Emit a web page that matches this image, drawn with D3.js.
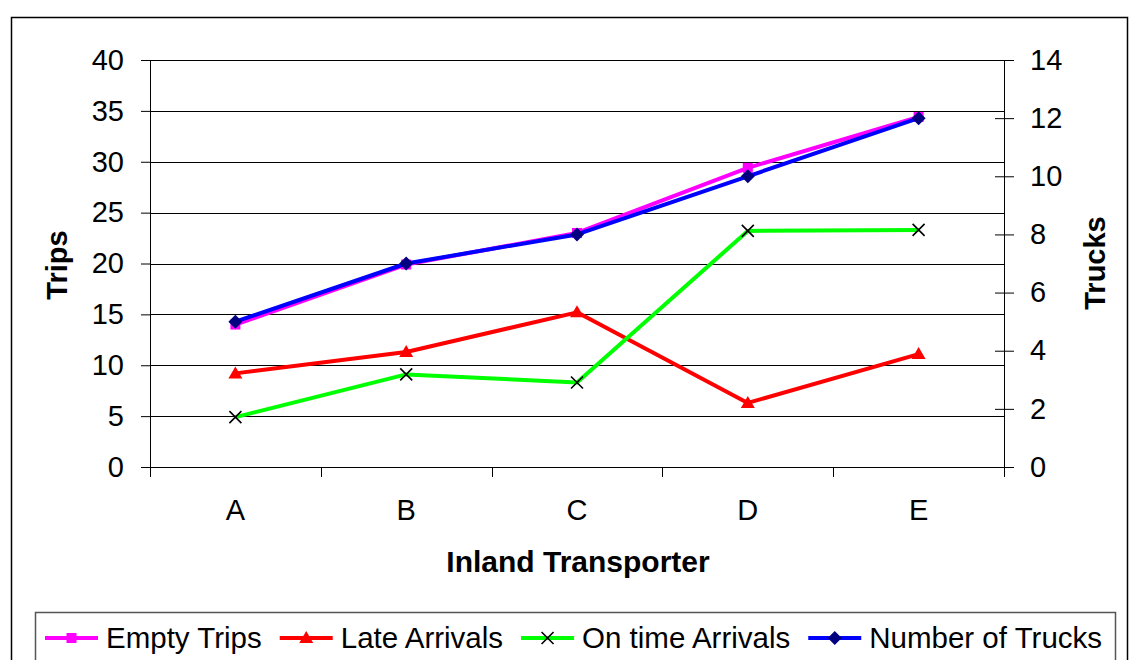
<!DOCTYPE html>
<html><head><meta charset="utf-8">
<script src="https://cdn.jsdelivr.net/npm/d3@7"></script>
<style>
html,body{margin:0;padding:0;background:#fff;}
svg text{font-family:"Liberation Sans",Arial,sans-serif;fill:#000;}
</style></head>
<body>
<svg id="chart" width="1129" height="660"></svg>
<script>
const categories = ["A","B","C","D","E"];
const emptyTrips = [14, 19.9, 23, 29.4, 34.4];
const lateArrivals = [9.2, 11.3, 15.2, 6.3, 11.1];
const onTimeArrivals = [4.9, 9.1, 8.3, 23.2, 23.3];
const numberOfTrucks = [5, 7, 8, 10, 12];
const leftTicks = [0,5,10,15,20,25,30,35,40];
const rightTicks = [0,2,4,6,8,10,12,14];
const seriesNames = ["Empty Trips","Late Arrivals","On time Arrivals","Number of Trucks"];

const svg = d3.select("#chart");
const plot = {left:150, right:1004, top:60, bottom:467};
const FS = 29;

// outer border
svg.append("rect").attr("x",11.5).attr("y",17.5).attr("width",1116).attr("height",700)
  .attr("fill","none").attr("stroke","#000").attr("stroke-width",1.5);

const x = d3.scaleBand().domain(categories).range([plot.left, plot.right]);
const yL = d3.scaleLinear().domain([0,40]).range([plot.bottom, plot.top]);
const yR = d3.scaleLinear().domain([0,14]).range([plot.bottom, plot.top]);
const xc = c => x(c) + x.bandwidth()/2;

// gridlines
svg.append("g").selectAll("line").data(leftTicks.filter(d=>d>0)).join("line")
  .attr("x1",plot.left).attr("x2",plot.right)
  .attr("y1",d=>Math.round(yL(d))+0.5).attr("y2",d=>Math.round(yL(d))+0.5)
  .attr("stroke","#000").attr("stroke-width",1);

// left axis
const gL = svg.append("g").attr("transform",`translate(${plot.left},0)`)
  .call(d3.axisLeft(yL).tickValues(leftTicks).tickSize(9).tickPadding(17));
gL.selectAll("text").style("font-size",FS+"px").attr("font-family","Liberation Sans, Arial");
gL.selectAll("line,path").attr("stroke","#000");
gL.select(".domain").attr("d",`M0.5,${plot.top}V${plot.bottom}`);

// right axis
const gR = svg.append("g").attr("transform",`translate(${plot.right},0)`)
  .call(d3.axisRight(yR).tickValues(rightTicks).tickSize(10).tickPadding(16));
gR.selectAll("text").style("font-size",FS+"px").attr("font-family","Liberation Sans, Arial");
gR.selectAll(".tick line").attr("x1",-9).attr("stroke","#000");
gR.select(".domain").attr("d",`M0.5,${plot.top}V${plot.bottom}`).attr("stroke","#000");

// bottom axis
const gB = svg.append("g").attr("transform",`translate(0,${plot.bottom})`);
gB.append("line").attr("x1",plot.left).attr("x2",plot.right).attr("y1",0.5).attr("y2",0.5).attr("stroke","#000");
const bounds = categories.map(c=>x(c)).concat([plot.right]);
gB.selectAll("line.tk").data(bounds).join("line").attr("class","tk")
  .attr("x1",d=>Math.round(d)+0.5).attr("x2",d=>Math.round(d)+0.5).attr("y1",0).attr("y2",10).attr("stroke","#000");
gB.selectAll("text").data(categories).join("text")
  .attr("x",d=>xc(d)).attr("y",53).attr("text-anchor","middle").style("font-size",FS+"px").text(d=>d);

// axis titles
svg.append("text").attr("transform","translate(67,265) rotate(-90)").attr("text-anchor","middle")
  .style("font-size",FS+"px").style("font-weight","bold").text("Trips");
svg.append("text").attr("transform","translate(1105,263) rotate(-90)").attr("text-anchor","middle")
  .style("font-size",FS+"px").style("font-weight","bold").text("Trucks");
svg.append("text").attr("x",578).attr("y",572).attr("text-anchor","middle")
  .style("font-size","30px").style("font-weight","bold").text("Inland Transporter");

// series
const series = [
  {name:seriesNames[0], vals:emptyTrips, y:yL, color:"#FF00FF", marker:"square", mfill:"#FF00FF"},
  {name:seriesNames[1], vals:lateArrivals, y:yL, color:"#FF0000", marker:"triangle", mfill:"#FF0000"},
  {name:seriesNames[2], vals:onTimeArrivals, y:yL, color:"#00FF00", marker:"x", mfill:"#000"},
  {name:seriesNames[3], vals:numberOfTrucks, y:yR, color:"#0000FF", marker:"diamond", mfill:"#000080"}
];

function drawMarker(g, type, cx, cy, fill){
  if(type==="square"){
    g.append("rect").attr("x",cx-5).attr("y",cy-5).attr("width",10).attr("height",10).attr("fill",fill);
  } else if(type==="triangle"){
    g.append("path").attr("d",`M${cx},${cy-7}L${cx+7},${cy+5}L${cx-7},${cy+5}Z`).attr("fill",fill);
  } else if(type==="x"){
    g.append("path").attr("d",`M${cx-6},${cy-6}L${cx+6},${cy+6}M${cx-6},${cy+6}L${cx+6},${cy-6}`)
      .attr("stroke",fill).attr("stroke-width",1.6).attr("fill","none");
  } else if(type==="diamond"){
    g.append("path").attr("d",`M${cx},${cy-7}L${cx+7},${cy}L${cx},${cy+7}L${cx-7},${cy}Z`).attr("fill",fill);
  }
}

series.forEach(s=>{
  const g = svg.append("g");
  const line = d3.line().x((d,i)=>xc(categories[i])).y(d=>s.y(d));
  g.append("path").datum(s.vals).attr("d",line).attr("fill","none")
    .attr("stroke",s.color).attr("stroke-width",4).attr("stroke-linejoin","round");
  s.vals.forEach((v,i)=>drawMarker(g, s.marker, xc(categories[i]), s.y(v), s.mfill));
});

// legend
svg.append("rect").attr("x",35.5).attr("y",612.5).attr("width",1080).attr("height",80)
  .attr("fill","#fff").attr("stroke","#555").attr("stroke-width",1.5);
let lx = 45;
const ly = 638;
series.forEach(s=>{
  const g = svg.append("g");
  g.append("line").attr("x1",lx).attr("x2",lx+53).attr("y1",ly).attr("y2",ly)
    .attr("stroke",s.color).attr("stroke-width",4);
  drawMarker(g, s.marker, lx+26.5, ly, s.mfill);
  const t = g.append("text").attr("x",lx+61).attr("y",ly+10).style("font-size","29.5px").text(s.name);
  lx = lx + 61 + t.node().getComputedTextLength() + 18;
});
</script>
</body></html>
